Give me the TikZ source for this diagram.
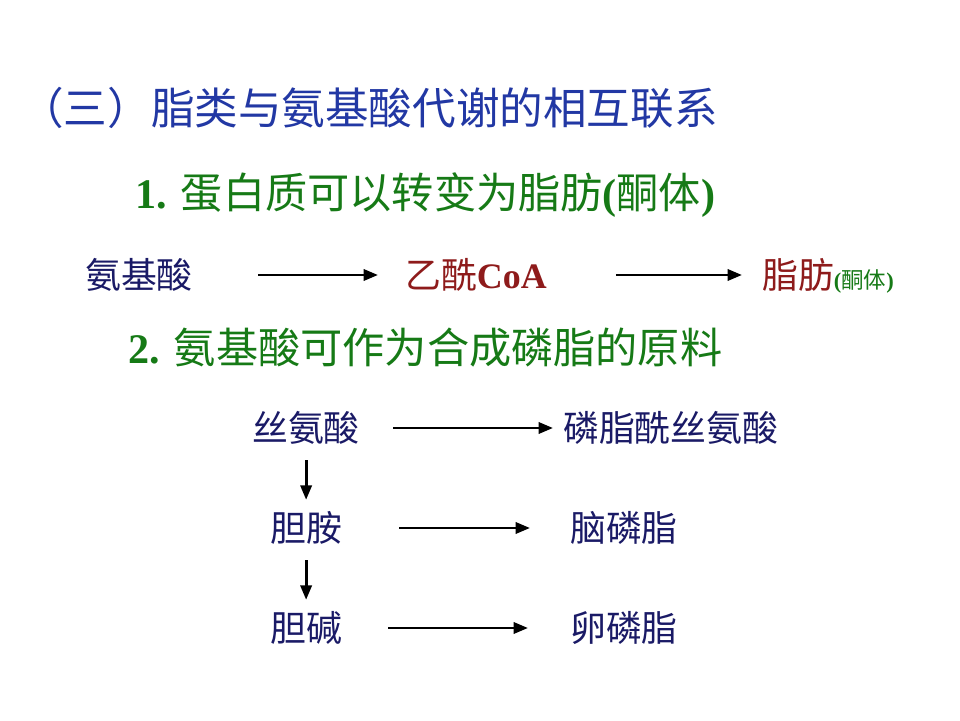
\documentclass[tikz,border=0pt]{standalone}
\usepackage{fontspec}
\setmainfont{Liberation Serif}
\newfontfamily\cjk{Noto Sans CJK SC}
\usetikzlibrary{arrows.meta}
\definecolor{TitleBlue}{HTML}{2238A4}
\definecolor{HeadGreen}{HTML}{167A16}
\definecolor{NavyText}{HTML}{1A1A66}
\definecolor{DarkRed}{HTML}{8E1B1B}
\tikzset{
  titlebox/.style={anchor=west, inner sep=0pt, text=TitleBlue, font=\cjk\fontsize{31}{36}\selectfont},
  headbox/.style={anchor=west, inner sep=0pt, text height=26.4pt, text depth=3.6pt, text=HeadGreen, font=\fontsize{30}{36}\selectfont},
  term/.style={anchor=west, inner sep=0pt, text height=22.4pt, text depth=3.1pt, text=NavyText, font=\cjk\fontsize{25.5}{30}\selectfont},
  arrow/.style={-{Triangle[length=3.6mm, width=2.8mm]}, line width=2pt, draw=black}
}

\begin{document}
\begin{tikzpicture}
\useasboundingbox[fill=white] (0,0) rectangle (24,18);

\node[titlebox] (title) at (0.5,15.3) {（三）脂类与氨基酸代谢的相互联系};

\node[headbox] (step1) at (3.375,13.2)
  {\bfseries 1. \mdseries{\cjk 蛋白质可以转变为脂肪}\bfseries(\mdseries{\cjk 酮体}\bfseries)};
\node[term] (amino) at (2.125,11.125) {氨基酸};
\node[term, text=DarkRed] (acecoa) at (10.125,11.125) {乙酰\fontspec{Liberation Serif}\bfseries CoA};
\node[term, text=DarkRed] (fat) at (19.05,11.125)
  {脂肪{\fontsize{16}{18}\selectfont\color{HeadGreen}\rmfamily\bfseries(\mdseries{\cjk 酮体}\bfseries)}};
\draw[arrow, shorten <=1.625cm, shorten >=0.675cm] (amino.east) -- (acecoa.west);
\draw[arrow, shorten <=1.725cm, shorten >=0.5cm] (acecoa.east) -- (fat.west);

\node[headbox] (step2) at (3.2,9.325)
  {\bfseries 2. \mdseries{\cjk 氨基酸可作为合成磷脂的原料}};
\node[term] (serine) at (6.3,7.3) {丝氨酸};
\node[term] (phser) at (14.075,7.3) {磷脂酰丝氨酸};
\node[term] (ethan) at (6.75,4.8) {胆胺};
\node[term] (ceph) at (14.25,4.8) {脑磷脂};
\node[term] (choline) at (6.75,2.3) {胆碱};
\node[term] (lecith) at (14.25,2.3) {卵磷脂};

\draw[arrow, shorten <=0.825cm, shorten >=0.25cm] (serine.east) -- (phser.west);
\draw[arrow, shorten <=1.425cm, shorten >=1cm] (ethan.east) -- (ceph.west);
\draw[arrow, shorten <=1.15cm, shorten >=1.05cm] (choline.east) -- (lecith.west);
\draw[arrow, shorten <=0.35cm, shorten >=0.25cm] (ethan.north |- serine.south) -- (ethan.north);
\draw[arrow, shorten <=0.35cm, shorten >=0.25cm] (ethan.south) -- (choline.north);
\end{tikzpicture}
\end{document}
